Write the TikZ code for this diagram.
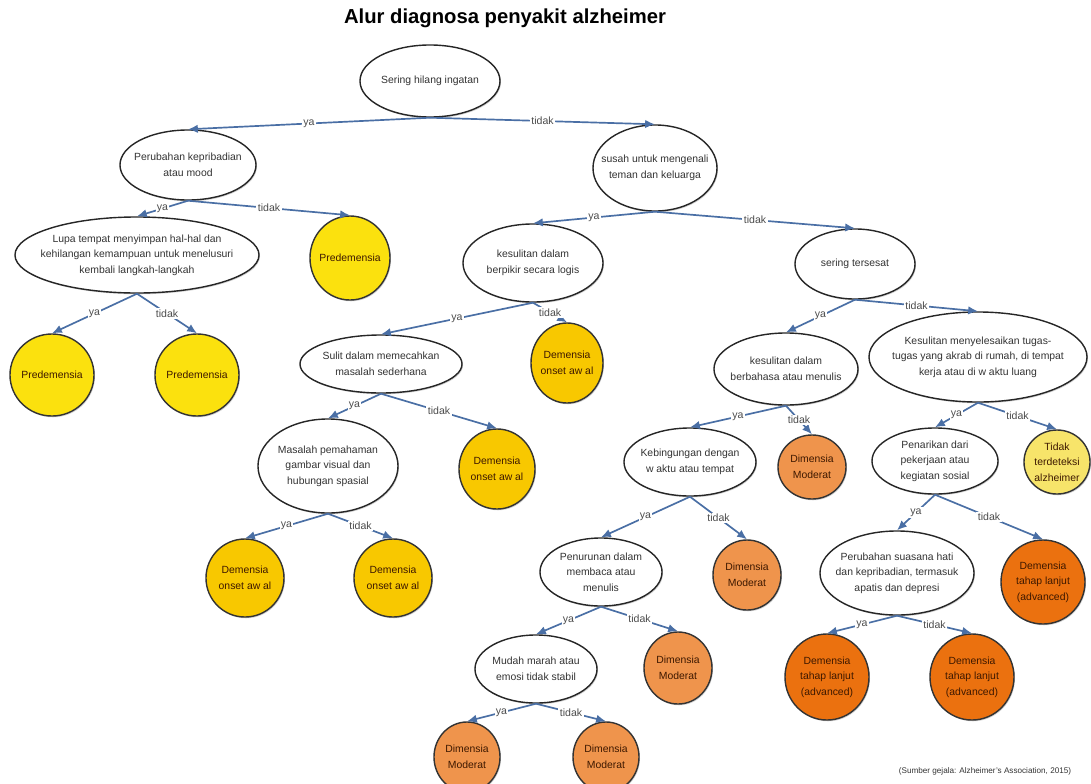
\documentclass[tikz,border=0pt]{standalone}
\usepackage{fontspec}
\setmainfont{Liberation Sans}
\usepackage{tikz}
\usetikzlibrary{arrows.meta, shapes.geometric, shadows}

\definecolor{linkblue}{HTML}{4A6FA5}
\definecolor{predem}{HTML}{FBE10E}
\definecolor{onset}{HTML}{F8C800}
\definecolor{moderat}{HTML}{EF944C}
\definecolor{lanjut}{HTML}{EB710F}
\definecolor{nodet}{HTML}{F7E46A}
\definecolor{circtext}{HTML}{3D1800}

\newcommand{\boxfont}{\fontsize{7.4}{11}\selectfont}
\newcommand{\labfont}{\fontsize{7.5}{9}\selectfont}

\tikzset{
	ques/.style={ellipse, draw=black!85, line width=1pt, fill=white, align=center, inner sep=-1.5cm,
		text=black!80, font=\boxfont,
		drop shadow={shadow xshift=0.7pt, shadow yshift=-0.9pt, opacity=0.3, fill=black!60}},
	res/.style={ellipse, draw=black!80, line width=1pt, fill=#1, align=center, inner sep=-1.5cm,
		text=circtext, font=\boxfont,
		drop shadow={shadow xshift=0.7pt, shadow yshift=-0.9pt, opacity=0.3, fill=black!60}},
	link/.style={draw=linkblue, line width=1.2pt, -{Latex[length=7pt, width=6pt]}},
	lab/.style={fill=white, inner sep=1pt, font=\labfont, text=black!70},
}

\begin{document}
\begin{tikzpicture}[x=0.025cm, y=-0.025cm]
		\useasboundingbox (0,0) rectangle (1091,783);
		% Title
		\node[font=\fontsize{14.4}{17}\selectfont\bfseries] (title) at (505, 18){Alur diagnosa penyakit alzheimer};
		% Questions:
		\node[ques, minimum width=3.5cm, minimum height=1.8cm] (root) at (430, 81){Sering hilang ingatan};
		\node[ques, minimum width=3.4cm, minimum height=1.75cm] (kepribadian) at (188, 165){Perubahan kepribadian\\atau mood};
		\node[ques, minimum width=3.1cm, minimum height=2.15cm] (kenali) at (655, 168){susah untuk mengenali\\teman dan keluarga};
		\node[ques, minimum width=6.1cm, minimum height=1.9cm] (lupa) at (137, 255){Lupa tempat menyimpan hal-hal dan\\kehilangan kemampuan untuk menelusuri\\kembali langkah-langkah};
		\node[ques, minimum width=3.5cm, minimum height=1.95cm] (logis) at (533, 263){kesulitan dalam\\berpikir secara logis};
		\node[ques, minimum width=3.0cm, minimum height=1.75cm] (tersesat) at (855, 264){sering tersesat};
		\node[ques, minimum width=4.05cm, minimum height=1.45cm] (sulit) at (381, 364){Sulit dalam memecahkan\\masalah sederhana};
		\node[ques, minimum width=3.6cm, minimum height=1.8cm] (bahasa) at (786, 369){kesulitan dalam\\berbahasa atau menulis};
		\node[ques, minimum width=5.45cm, minimum height=2.25cm] (tugas) at (978, 357){Kesulitan menyelesaikan tugas-\\tugas yang akrab di rumah, di tempat\\kerja atau di w aktu luang};
		\node[ques, minimum width=3.5cm, minimum height=2.35cm] (spasial) at (328, 466){Masalah pemahaman\\gambar visual dan\\hubungan spasial};
		\node[ques, minimum width=3.3cm, minimum height=1.7cm] (bingung) at (690, 462){Kebingungan dengan\\w aktu atau tempat};
		\node[ques, minimum width=3.15cm, minimum height=1.65cm] (penarikan) at (935, 461){Penarikan dari\\pekerjaan atau\\kegiatan sosial};
		\node[ques, minimum width=3.05cm, minimum height=1.7cm] (penurunan) at (601, 572){Penurunan dalam\\membaca atau\\menulis};
		\node[ques, minimum width=3.85cm, minimum height=2.1cm] (suasana) at (897, 573){Perubahan suasana hati\\dan kepribadian, termasuk\\apatis dan depresi};
		\node[ques, minimum width=3.05cm, minimum height=1.7cm] (mudah) at (536, 669){Mudah marah atau\\emosi tidak stabil};
		% Results:
		\node[res=predem, minimum width=2.0cm, minimum height=2.1cm] (preA) at (350, 258){Predemensia};
		\node[res=predem, minimum width=2.1cm, minimum height=2.05cm] (preB) at (52, 375){Predemensia};
		\node[res=predem, minimum width=2.1cm, minimum height=2.05cm] (preC) at (197, 375){Predemensia};
		\node[res=onset, minimum width=1.8cm, minimum height=2.0cm] (onsetA) at (567, 363){Demensia\\onset aw al};
		\node[res=onset, minimum width=1.9cm, minimum height=2.0cm] (onsetB) at (497, 469){Demensia\\onset aw al};
		\node[res=onset, minimum width=1.95cm, minimum height=1.95cm] (onsetC) at (245, 578){Demensia\\onset aw al};
		\node[res=onset, minimum width=1.95cm, minimum height=1.95cm] (onsetD) at (393, 578){Demensia\\onset aw al};
		\node[res=moderat, minimum width=1.7cm, minimum height=1.6cm] (modA) at (812, 467){Dimensia\\Moderat};
		\node[res=moderat, minimum width=1.7cm, minimum height=1.75cm] (modB) at (747, 575){Dimensia\\Moderat};
		\node[res=moderat, minimum width=1.7cm, minimum height=1.8cm] (modC) at (678, 668){Dimensia\\Moderat};
		\node[res=moderat, minimum width=1.65cm, minimum height=1.75cm] (modD) at (467, 757){Dimensia\\Moderat};
		\node[res=moderat, minimum width=1.65cm, minimum height=1.75cm] (modE) at (606, 757){Dimensia\\Moderat};
		\node[res=nodet, minimum width=1.65cm, minimum height=1.6cm] (nodet) at (1057, 462){Tidak\\terdeteksi\\alzheimer};
		\node[res=lanjut, minimum width=2.1cm, minimum height=2.1cm] (lanjutA) at (1043, 582){Demensia\\tahap lanjut\\(advanced)};
		\node[res=lanjut, minimum width=2.1cm, minimum height=2.15cm] (lanjutB) at (827, 677){Demensia\\tahap lanjut\\(advanced)};
		\node[res=lanjut, minimum width=2.1cm, minimum height=2.15cm] (lanjutC) at (972, 677){Demensia\\tahap lanjut\\(advanced)};
		% Source note
		\node[font=\fontsize{5.8}{7}\selectfont, text=black!80] (sumber) at (985, 771){(Sumber gejala: Alzheimer's Association, 2015)};
		% Paths:
		\draw[link] (root.south) -- node[lab]{ya} (kepribadian.north);
		\draw[link] (root.south) -- node[lab]{tidak} (kenali.north);
		\draw[link] (kepribadian.south) -- node[lab]{ya} (lupa.north);
		\draw[link] (kepribadian.south) -- node[lab]{tidak} (preA.north);
		\draw[link] (kenali.south) -- node[lab]{ya} (logis.north);
		\draw[link] (kenali.south) -- node[lab]{tidak} (tersesat.north);
		\draw[link] (lupa.south) -- node[lab]{ya} (preB.north);
		\draw[link] (lupa.south) -- node[lab]{tidak} (preC.north);
		\draw[link] (logis.south) -- node[lab]{ya} (sulit.north);
		\draw[link] (logis.south) -- node[lab]{tidak} (onsetA.north);
		\draw[link] (tersesat.south) -- node[lab]{ya} (bahasa.north);
		\draw[link] (tersesat.south) -- node[lab]{tidak} (tugas.north);
		\draw[link] (sulit.south) -- node[lab]{ya} (spasial.north);
		\draw[link] (sulit.south) -- node[lab]{tidak} (onsetB.north);
		\draw[link] (bahasa.south) -- node[lab]{ya} (bingung.north);
		\draw[link] (bahasa.south) -- node[lab]{tidak} (modA.north);
		\draw[link] (tugas.south) -- node[lab]{ya} (penarikan.north);
		\draw[link] (tugas.south) -- node[lab]{tidak} (nodet.north);
		\draw[link] (spasial.south) -- node[lab]{ya} (onsetC.north);
		\draw[link] (spasial.south) -- node[lab]{tidak} (onsetD.north);
		\draw[link] (bingung.south) -- node[lab]{ya} (penurunan.north);
		\draw[link] (bingung.south) -- node[lab]{tidak} (modB.north);
		\draw[link] (penarikan.south) -- node[lab]{ya} (suasana.north);
		\draw[link] (penarikan.south) -- node[lab]{tidak} (lanjutA.north);
		\draw[link] (penurunan.south) -- node[lab]{ya} (mudah.north);
		\draw[link] (penurunan.south) -- node[lab]{tidak} (modC.north);
		\draw[link] (suasana.south) -- node[lab]{ya} (lanjutB.north);
		\draw[link] (suasana.south) -- node[lab]{tidak} (lanjutC.north);
		\draw[link] (mudah.south) -- node[lab]{ya} (modD.north);
		\draw[link] (mudah.south) -- node[lab]{tidak} (modE.north);
	\end{tikzpicture}
\end{document}
